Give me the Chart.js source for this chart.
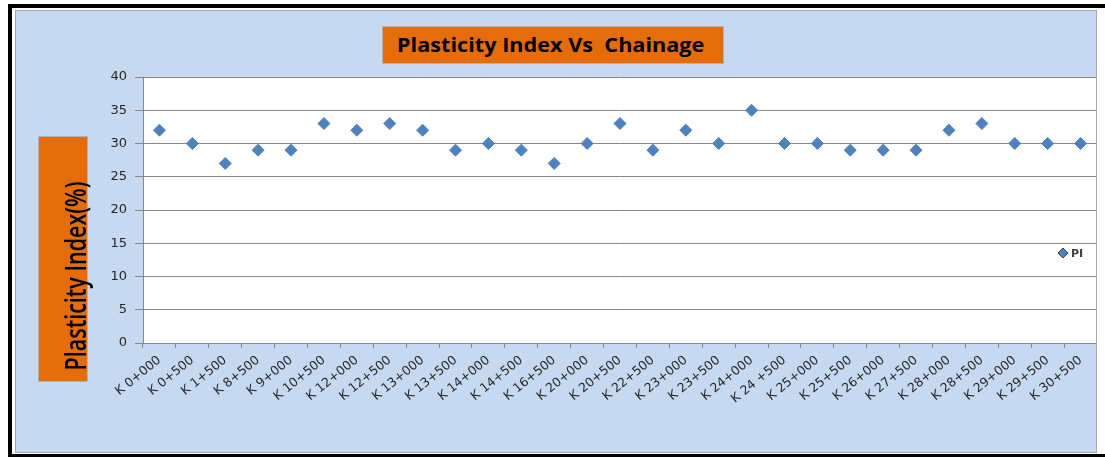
<!DOCTYPE html>
<html>
<head>
<meta charset="utf-8">
<script src="https://cdn.jsdelivr.net/npm/chart.js@4.4.0/dist/chart.umd.min.js"></script>
<style>
    html, body { margin: 0; padding: 0; background: #fff; overflow: hidden; }
    body { width: 1105px; height: 457px; position: relative; }
    #frame {
        position: absolute; left: 8px; top: 4px;
        width: 1097px; height: 454px;
        border: 4px solid #000; border-right: 0;
        box-sizing: border-box; background: #fff;
    }
    #chartBox {
        position: absolute; left: 15px; top: 10px;
        width: 1080px; height: 441px; overflow: hidden;
        border: 1px solid #a6a6a6; background: #c6d9f1;
    }
    #chartBox canvas { position: absolute; left: 0; top: 0; }
    .orangeBox {
        position: absolute; background: #e46c0a;
        border: 1px solid #b3b3b3; box-sizing: border-box;
    }
    #titleBox { left: 382px; top: 26px; width: 342px; height: 38px; }
    #titleBox span {
        position: absolute; left: 14px; top: 0; line-height: 36px; white-space: nowrap;
        transform-origin: 0 50%; transform: scaleX(1.14);
        font-family: "Open Sans", sans-serif; font-weight: bold; font-size: 19px; color: #000;
    }
    #yTitleBox { left: 38px; top: 136px; width: 50px; height: 246px; }
    #yTitleAnchor { position: absolute; left: 75px; top: 276px; width: 0; height: 0; }
    #yTitleAnchor span {
        position: absolute; left: 0; top: 0; white-space: nowrap;
        transform-origin: 0 0;
        transform: rotate(-90deg) scaleY(1.35) translate(-50%, -50%);
        font-family: "Open Sans", sans-serif; font-weight: 600; font-size: 21.5px; line-height: 1; color: #000;
    }
</style>
</head>
<body>
<div id="frame"></div>
<div id="chartBox"><canvas id="piChart" width="1088" height="441"></canvas></div>
<div id="titleBox" class="orangeBox"><span>Plasticity Index Vs&nbsp; Chainage</span></div>
<div id="yTitleBox" class="orangeBox"></div>
<div id="yTitleAnchor"><span>Plasticity Index(%)</span></div>

<script>
// chainage stations along the road
var chainage = [
    'K 0+000', 'K 0+500', 'K 1+500', 'K 8+500', 'K 9+000', 'K 10+500',
    'K 12+000', 'K 12+500', 'K 13+000', 'K 13+500', 'K 14+000', 'K 14+500',
    'K 16+500', 'K 20+000', 'K 20+500', 'K 22+500', 'K 23+000', 'K 23+500',
    'K 24+000', 'K 24 +500', 'K 25+000', 'K 25+500', 'K 26+000', 'K 27+500',
    'K 28+000', 'K 28+500', 'K 29+000', 'K 29+500', 'K 30+500'
];

// plasticity index (%) at each station
var piValues = [
    32, 30, 27, 29, 29, 33,
    32, 33, 32, 29, 30, 29,
    27, 30, 33, 29, 32, 30,
    35, 30, 30, 29, 29, 29,
    32, 33, 30, 30, 30
];

var yMin = 0, yMax = 40, yStep = 5;

var gridGrey = '#868686';
var tickColor = '#262626';
var markerBlue = '#4f81bd';

// white plot area on the blue chart background
var plotBackground = {
    id: 'plotBackground',
    beforeDraw: function(chart) {
        var a = chart.chartArea, ctx = chart.ctx;
        ctx.save();
        ctx.fillStyle = '#fff';
        ctx.fillRect(a.left, a.top, a.right - a.left, a.bottom - a.top);
        ctx.restore();
    }
};

// small legend drawn inside the plot, near the right edge
var insideLegend = {
    id: 'insideLegend',
    afterDraw: function(chart) {
        var a = chart.chartArea, ctx = chart.ctx;
        var ds = chart.data.datasets[0];
        var x = a.right - 34, y = a.top + 176;
        ctx.save();
        Chart.helpers.drawPoint(ctx, { pointStyle: 'rectRot', radius: 5, rotation: 0, borderWidth: 1 }, x, y);
        ctx.fillStyle = ds.backgroundColor;
        ctx.fill();
        ctx.fillStyle = '#404040';
        ctx.font = 'bold 11px "DejaVu Sans"';
        ctx.textBaseline = 'middle';
        ctx.fillText(ds.label, x + 8, y + 1);
        ctx.restore();
    }
};

var ctx = document.getElementById('piChart').getContext('2d');
var piChart = new Chart(ctx, {
    type: 'line',
    data: {
        labels: chainage,
        datasets: [{
            label: 'PI',
            data: piValues,
            showLine: false,
            pointStyle: 'rectRot',
            pointRadius: 6,
            pointHoverRadius: 6,
            backgroundColor: markerBlue,
            borderColor: markerBlue,
            borderWidth: 1
        }]
    },
    options: {
        responsive: false,
        animation: false,
        layout: { padding: { top: 66, left: 0, right: 0, bottom: 0 } },
        plugins: {
            legend: { display: false },
            title: { display: false },
            tooltip: { enabled: false }
        },
        scales: {
            x: {
                type: 'category',
                offset: true,
                grid: { offset: true, drawOnChartArea: false, drawTicks: true, tickLength: 5, color: gridGrey },
                border: { color: gridGrey },
                ticks: {
                    autoSkip: false,
                    minRotation: 39,
                    maxRotation: 39,
                    padding: 5,
                    color: tickColor,
                    font: { family: 'DejaVu Sans', size: 12.5 }
                },
                afterFit: function(scale) { scale.height = 109; }
            },
            y: {
                min: yMin,
                max: yMax,
                grid: { color: gridGrey, tickLength: 8 },
                border: { color: gridGrey },
                ticks: {
                    stepSize: yStep,
                    padding: 8,
                    color: tickColor,
                    font: { family: 'DejaVu Sans', size: 13 }
                },
                afterFit: function(scale) { scale.width = 127; }
            }
        }
    },
    plugins: [plotBackground, insideLegend]
});
</script>
</body>
</html>
